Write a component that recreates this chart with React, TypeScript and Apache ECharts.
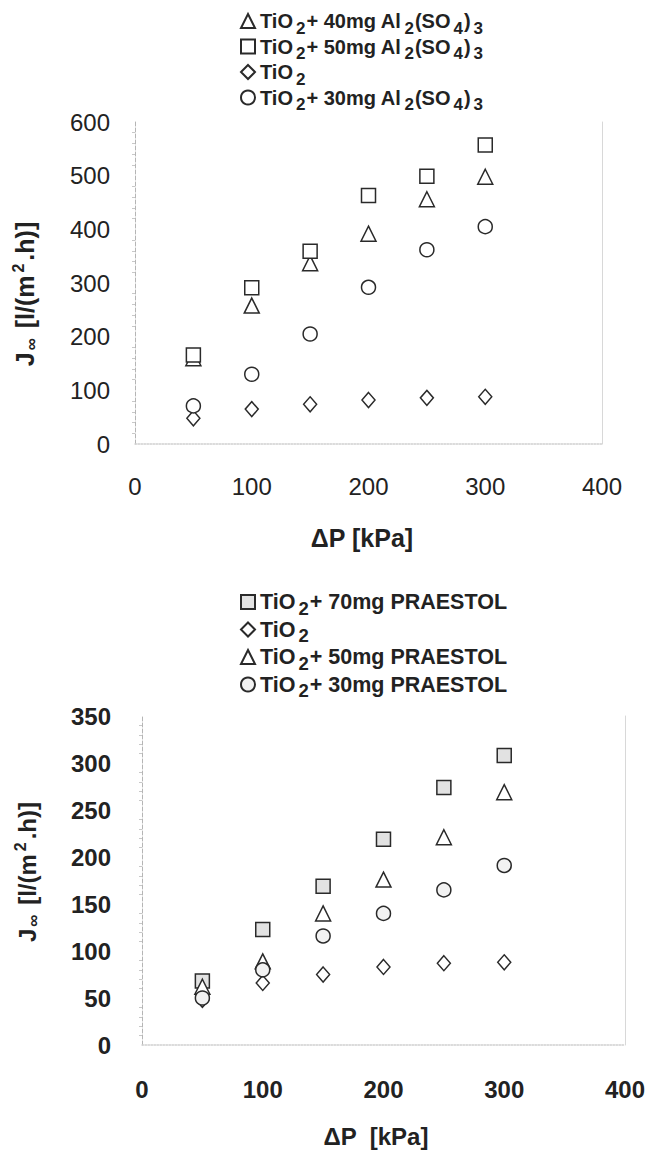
import React, { useEffect, useRef } from "react";
import * as echarts from "echarts";

// ---- data ----
const pressure = [50, 100, 150, 200, 250, 300];

// top chart: Al2(SO4)3 additions
const topAlum40 = [160, 258, 337, 392, 456, 498];
const topAlum50 = [166, 291, 359, 463, 499, 557];
const topTiO2 = [48, 65, 74, 82, 86, 88];
const topAlum30 = [71, 130, 205, 292, 362, 405];

// bottom chart: PRAESTOL additions
const botP70 = [68, 123, 169, 219, 274, 308];
const botTiO2 = [48, 66, 75, 83, 87, 88];
const botP50 = [62, 89, 140, 176, 221, 269];
const botP30 = [50, 80, 116, 140, 165, 191];

const topLegend = [
  { name: "TiO2+ 40mg Al2(SO4)3", rich: "{m|TiO}{s|2}{m|+ 40mg Al}{s|2}{m|(SO}{s|4}{m|)}{s|3}" },
  { name: "TiO2+ 50mg Al2(SO4)3", rich: "{m|TiO}{s|2}{m|+ 50mg Al}{s|2}{m|(SO}{s|4}{m|)}{s|3}" },
  { name: "TiO2", rich: "{m|TiO}{s|2}" },
  { name: "TiO2+ 30mg Al2(SO4)3", rich: "{m|TiO}{s|2}{m|+ 30mg Al}{s|2}{m|(SO}{s|4}{m|)}{s|3}" },
];
const botLegend = [
  { name: "TiO2+ 70mg PRAESTOL", rich: "{m|TiO}{s|2}{m|+ 70mg PRAESTOL}" },
  { name: "TiO2 ", rich: "{m|TiO}{s|2}" },
  { name: "TiO2+ 50mg PRAESTOL", rich: "{m|TiO}{s|2}{m|+ 50mg PRAESTOL}" },
  { name: "TiO2+ 30mg PRAESTOL", rich: "{m|TiO}{s|2}{m|+ 30mg PRAESTOL}" },
];

const FONT = "'Liberation Sans', Arial, sans-serif";
const INK = "#222";

const legendRich = (size: number) => ({
  m: { fontSize: size, fontWeight: "bold", fontFamily: FONT, color: INK, lineHeight: 31, verticalAlign: "middle" },
  s: { fontSize: size - 3, fontWeight: "bold", fontFamily: FONT, color: INK, lineHeight: 12, verticalAlign: "bottom", padding: [0, 1, 0, 3] },
});

export default function App() {
  const ref = useRef<HTMLDivElement>(null);
  useEffect(() => {
    if (!ref.current) return;
    const chart = echarts.init(ref.current, undefined, { renderer: "svg" });
    const pts = (arr: number[]) => pressure.map((x, i) => [x, arr[i]]);
    const mk = (name: string, data: number[], symbol: string, size: any, idx: number, fill = "#fff") => ({
      type: "scatter",
      name,
      xAxisIndex: idx,
      yAxisIndex: idx * 2,
      data: pts(data),
      symbol,
      symbolSize: size,
      itemStyle: { color: fill, borderColor: "#2a2a2a", borderWidth: 1.5, opacity: 1 },
      z: 3,
    });
    const nameMap: Record<string, string> = {};
    [...topLegend, ...botLegend].forEach((l) => (nameMap[l.name] = l.rich));

    const xAxisBase = (gridIndex: number, bold: boolean, margin: number) => ({
      type: "value",
      gridIndex,
      min: 0,
      max: 400,
      interval: 100,
      splitLine: { show: false },
      axisTick: { show: false },
      axisLine: { show: true, lineStyle: { color: "#cfcfcf", type: "dotted", width: 1.5 } },
      axisLabel: {
        fontFamily: FONT,
        fontSize: 24,
        fontWeight: bold ? "bold" : "normal",
        color: INK,
        margin,
      },
    });
    const yAxisBase = (gridIndex: number, max: number, interval: number, bold: boolean, margin: number) => ({
      type: "value",
      gridIndex,
      min: 0,
      max,
      interval,
      splitLine: { show: false },
      axisTick: { show: false },
      minorTick: { show: true, splitNumber: 5, length: 3, lineStyle: { color: "#c8c8c8" } },
      axisLine: { show: true, lineStyle: { color: "#b5b5b5", type: "dashed", width: 1 } },
      axisLabel: {
        fontFamily: FONT,
        fontSize: 24,
        fontWeight: bold ? "bold" : "normal",
        color: INK,
        margin,
      },
    });
    const rightAxis = (gridIndex: number, max: number) => ({
      type: "value",
      gridIndex,
      min: 0,
      max,
      position: "right",
      axisLine: { show: true, lineStyle: { color: "#d8d8d8", width: 1 } },
      axisTick: { show: false },
      axisLabel: { show: false },
      splitLine: { show: false },
    });
    const yTitleRich = (size: number) => ({
      m: { fontSize: size, fontWeight: "bold", fontFamily: FONT, fill: INK, lineHeight: 30, verticalAlign: "middle" },
      s: { fontSize: 17, fontWeight: "bold", fontFamily: FONT, fill: INK, lineHeight: 13, verticalAlign: "bottom", padding: [0, 3, 0, 2] },
      p: { fontSize: 16, fontWeight: "bold", fontFamily: FONT, fill: INK, lineHeight: 14, verticalAlign: "top", padding: [0, 3, 0, 3] },
    });

    chart.setOption({
      animation: false,
      backgroundColor: "#fff",
      grid: [
        { left: 135, right: 46, top: 122, height: 322 },
        { left: 142, right: 21, top: 716, height: 329 },
      ],
      xAxis: [xAxisBase(0, false, 30), xAxisBase(1, true, 32)],
      yAxis: [
        yAxisBase(0, 600, 100, false, 25),
        rightAxis(0, 600),
        yAxisBase(1, 350, 50, true, 31),
        rightAxis(1, 350),
      ],
      legend: [
        {
          data: topLegend.map((l) => l.name),
          orient: "vertical",
          left: 240,
          top: 11,
          itemGap: 0,
          itemWidth: 14,
          itemHeight: 14,
          padding: 0,
          formatter: (n: string) => nameMap[n],
          textStyle: { rich: legendRich(20) },
          selectedMode: false,
        },
        {
          data: botLegend.map((l) => l.name),
          orient: "vertical",
          left: 240,
          top: 591,
          itemGap: 1,
          itemWidth: 14,
          itemHeight: 14,
          padding: 0,
          formatter: (n: string) => nameMap[n],
          textStyle: { rich: legendRich(21.5) },
          selectedMode: false,
        },
      ],
      series: [
        mk(topLegend[0].name, topAlum40, "triangle", 15, 0),
        mk(topLegend[1].name, topAlum50, "rect", 14, 0),
        mk(topLegend[2].name, topTiO2, "diamond", [13, 15], 0),
        mk(topLegend[3].name, topAlum30, "circle", 14, 0),
        mk(botLegend[0].name, botP70, "rect", 14, 1, "#e2e2e2"),
        mk(botLegend[1].name, botTiO2, "diamond", [13, 15], 1),
        mk(botLegend[2].name, botP50, "triangle", 15, 1),
        mk(botLegend[3].name, botP30, "circle", 14, 1, "#f2f2f2"),
      ],
      graphic: [
        {
          type: "text",
          x: 362,
          y: 538,
          style: { text: "ΔP [kPa]", font: `bold 25px ${FONT}`, fill: INK, align: "center", verticalAlign: "middle" },
        },
        {
          type: "text",
          x: 376,
          y: 1136,
          style: { text: "ΔP  [kPa]", font: `bold 24px ${FONT}`, fill: INK, align: "center", verticalAlign: "middle" },
        },
        {
          type: "text",
          x: 25,
          y: 294,
          rotation: Math.PI / 2,
          style: { text: "{m|J}{s|∞}{m| [l/(m}{p|2}{m|.h)]}", align: "center", verticalAlign: "middle", rich: yTitleRich(25) },
        },
        {
          type: "text",
          x: 27,
          y: 872,
          rotation: Math.PI / 2,
          style: { text: "{m|J}{s|∞}{m| [l/(m}{p|2}{m|.h)]}", align: "center", verticalAlign: "middle", rich: yTitleRich(24) },
        },
      ],
    });
    return () => chart.dispose();
  }, []);
  return <div ref={ref} style={{ position: "fixed", left: 0, top: 0, width: 648, height: 1152 }} />;
}
